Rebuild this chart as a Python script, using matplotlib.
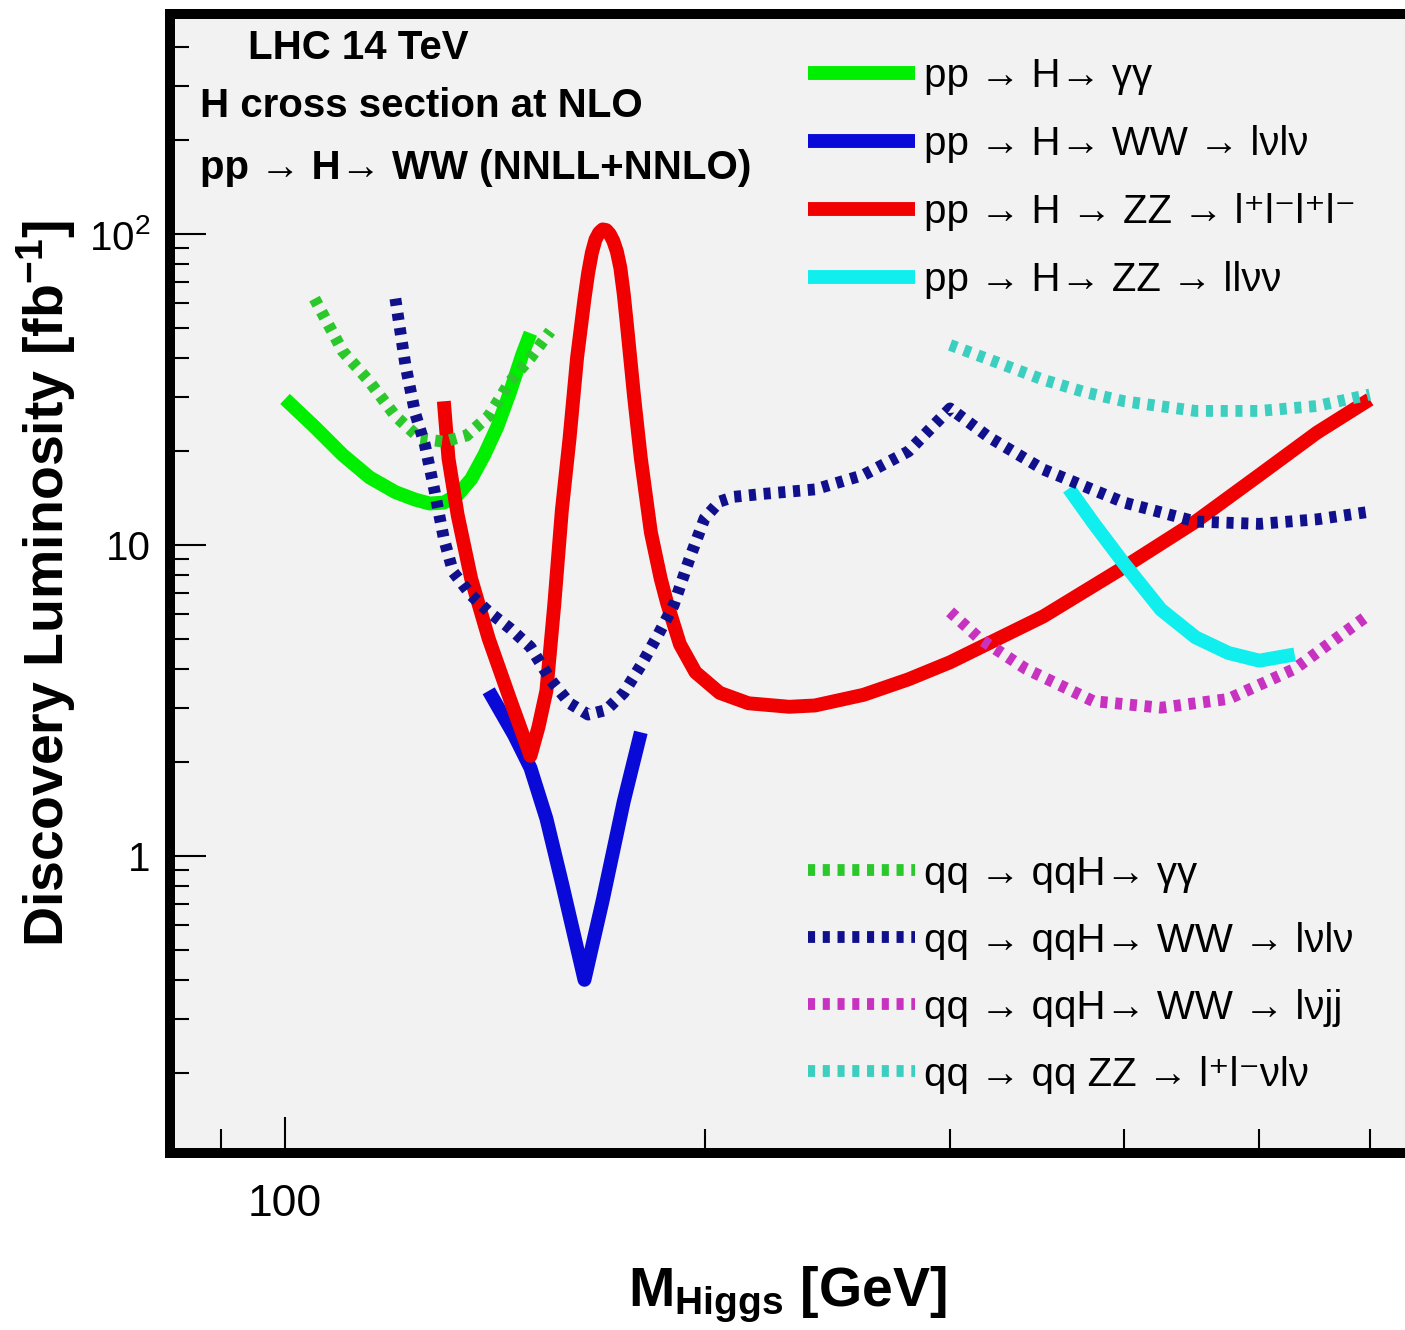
import numpy as np
import matplotlib
matplotlib.use('Agg')
import matplotlib.pyplot as plt
from matplotlib.ticker import NullFormatter, LogLocator

plt.rcParams['font.family'] = ['Liberation Sans', 'DejaVu Sans']
plt.rcParams['mathtext.fontset'] = 'custom'
plt.rcParams['mathtext.rm'] = 'Liberation Sans'
plt.rcParams['mathtext.bf'] = 'Liberation Sans:bold'
plt.rcParams['mathtext.default'] = 'regular'

# --- dados ---
# pp -> H -> gamma gamma
x_ggf_aa = [100, 105, 110, 115, 120, 124, 127, 130, 133, 136, 139, 142, 145, 148, 150]
y_ggf_aa = [29.5, 24, 19.5, 16.5, 14.8, 14.0, 13.6, 13.7, 14.5, 16.3, 19.5, 24, 31, 41, 48]

# pp -> H -> WW -> lvlv
x_ggf_ww = [140, 146, 150, 154, 158, 164, 169, 175, 180]
y_ggf_ww = [3.4, 2.45, 1.92, 1.32, 0.82, 0.40, 0.72, 1.5, 2.5]

# pp -> H -> ZZ -> 4l
x_ggf_zz4l = [130, 131, 133, 136, 140, 145, 150, 152, 154, 156, 158, 160, 162, 164,
              165, 166, 167, 168, 169, 170, 171, 172, 173, 174, 175, 176, 178, 180,
              183, 186, 188, 192, 197, 205, 215, 230, 240, 260, 280, 300, 350, 400,
              450, 500, 550, 600]
y_ggf_zz4l = [29, 19, 12.5, 7.8, 5.0, 3.2, 2.1, 2.6, 3.4, 6.4, 13, 22, 40, 62,
              75, 87, 96, 101, 103.5, 103, 100, 95, 88, 78, 64, 50, 30, 19,
              11, 7.8, 6.5, 4.8, 3.9, 3.35, 3.1, 3.02, 3.05, 3.3, 3.7, 4.2, 5.9, 8.5,
              11.9, 16.8, 23, 29.4]

# pp -> H -> ZZ -> llvv
x_ggf_zzllvv = [365, 380, 400, 425, 450, 475, 500, 530]
y_ggf_zzllvv = [15.2, 11.8, 8.7, 6.2, 5.05, 4.5, 4.25, 4.45]

# qq -> qqH -> gamma gamma
x_vbf_aa = [105, 110, 115, 120, 125, 130, 135, 140, 145, 150, 155]
y_vbf_aa = [62, 42, 33.5, 26, 22, 21.5, 22.5, 26, 33.5, 40, 48.7]

# qq -> qqH -> WW -> lvlv
x_vbf_ww = [120, 122, 124, 126, 128, 130, 132, 136, 140, 145, 150, 155, 160, 165,
            170, 175, 180, 185, 190, 195, 200, 205, 210, 220, 240, 260, 280, 300, 320,
            350, 400, 450, 500, 550, 600]
y_vbf_ww = [62, 38, 26.5, 21, 15, 10.5, 8.2, 6.9, 6.1, 5.4, 4.7, 3.7, 3.1, 2.85,
            2.95, 3.35, 4.1, 5.1, 6.4, 9.0, 12.2, 13.8, 14.3, 14.6, 15.1, 16.8, 20, 27.5, 22.2,
            17.5, 13.7, 11.9, 11.7, 12.1, 12.8]

# qq -> qqH -> WW -> lvjj
x_vbf_lvjj = [300, 315, 340, 380, 425, 475, 530, 600]
y_vbf_lvjj = [6.1, 5.0, 4.0, 3.15, 3.0, 3.2, 4.0, 6.0]

# qq -> qq ZZ
x_vbf_zz = [300, 325, 350, 375, 400, 450, 500, 550, 600]
y_vbf_zz = [44, 38.5, 34, 31, 29, 27, 27, 28, 30.5]

fig = plt.figure(figsize=(14.05, 13.3), dpi=100)
ax = fig.add_axes([170 / 1405, 1 - 1153 / 1330, 1.0 - 170 / 1405, (1153 - 14) / 1330])
ax.set_facecolor('#f2f2f2')

lw_s = 10
lw_d = 8.5
dot = (0, (0.6, 0.65))
sol = dict(lw=lw_s, solid_capstyle='butt', solid_joinstyle='round')
dsh = dict(lw=lw_d, ls=dot, dash_capstyle='butt', dash_joinstyle='round')

l1, = ax.plot(x_ggf_aa, y_ggf_aa, color='#00ee00', label='pp → H→ γγ', **sol)
l2, = ax.plot(x_ggf_ww, y_ggf_ww, color='#0a0ad8', label='pp → H→ WW → lνlν', **sol)
l3, = ax.plot(x_ggf_zz4l, y_ggf_zz4l, color='#f00000', label='pp → H → ZZ → l⁺l⁻l⁺l⁻', **sol)
l4, = ax.plot(x_ggf_zzllvv, y_ggf_zzllvv, color='#11eeee', label='pp → H→ ZZ → llνν', **sol)

d1, = ax.plot(x_vbf_aa, y_vbf_aa, color='#2ac82a', label='qq → qqH→ γγ', **dsh)
d2, = ax.plot(x_vbf_ww, y_vbf_ww, color='#10108c', label='qq → qqH→ WW → lνlν', **dsh)
d3, = ax.plot(x_vbf_lvjj, y_vbf_lvjj, color='#c832c0', label='qq → qqH→ WW → lνjj', **dsh)
d4, = ax.plot(x_vbf_zz, y_vbf_zz, color='#3ccfc0', label='qq → qq ZZ → l⁺l⁻νlν', **dsh)

ax.set_xscale('log')
ax.set_yscale('log')
ax.set_xlim(82.7, 636)
ax.set_ylim(0.111, 510)

# eixos no estilo ROOT
ax.set_xticks([100])
ax.set_xticklabels(['100'])
ax.set_xticks([90, 200, 300, 400, 500, 600], minor=True)
ax.xaxis.set_minor_formatter(NullFormatter())
ax.set_yticks([1, 10, 100])
ax.set_yticklabels(['1', '10', r'10$^{2}$'])
ax.yaxis.set_minor_locator(LogLocator(base=10, subs=np.arange(2, 10), numticks=20))
ax.yaxis.set_minor_formatter(NullFormatter())

ax.tick_params(which='both', direction='in', width=1.5, top=False, right=False)
ax.tick_params(axis='y', which='major', length=26, labelsize=29, pad=14)
ax.tick_params(axis='y', which='minor', length=14)
ax.tick_params(axis='x', which='major', length=26, labelsize=32, pad=22)
ax.tick_params(axis='x', which='minor', length=17)

for s in ['left', 'bottom', 'top']:
    ax.spines[s].set_linewidth(7.2)
ax.spines['right'].set_visible(False)

ax.set_ylabel(r'Discovery Luminosity [fb$^{-1}$]', fontsize=40, fontweight='bold', labelpad=8)
ax.set_xlabel(r'M$_{\mathbf{Higgs}}$ [GeV]', fontsize=40, fontweight='bold', labelpad=29)

# textos
ax.text(0.063, 0.970, 'LHC 14 TeV', transform=ax.transAxes, fontsize=29,
        fontweight='bold', va='center')
ax.text(0.0243, 0.919, 'H cross section at NLO', transform=ax.transAxes, fontsize=29,
        fontweight='bold', va='center')
ax.text(0.0243, 0.865, 'pp → H→ WW (NNLL+NNLO)',
        transform=ax.transAxes, fontsize=29, fontweight='bold', va='center')

leg1 = ax.legend(handles=[l1, l2, l3, l4], loc='upper left', bbox_to_anchor=(0.5166, 0.962),
                 frameon=False, fontsize=29, handlelength=2.65, handletextpad=0.22,
                 labelspacing=0.74, borderpad=0, borderaxespad=0)
ax.add_artist(leg1)
ax.legend(handles=[d1, d2, d3, d4], loc='upper left', bbox_to_anchor=(0.5166, 0.262),
          frameon=False, fontsize=29, handlelength=2.65, handletextpad=0.22,
          labelspacing=0.72, borderpad=0, borderaxespad=0)

plt.savefig('out.png', dpi=100)
